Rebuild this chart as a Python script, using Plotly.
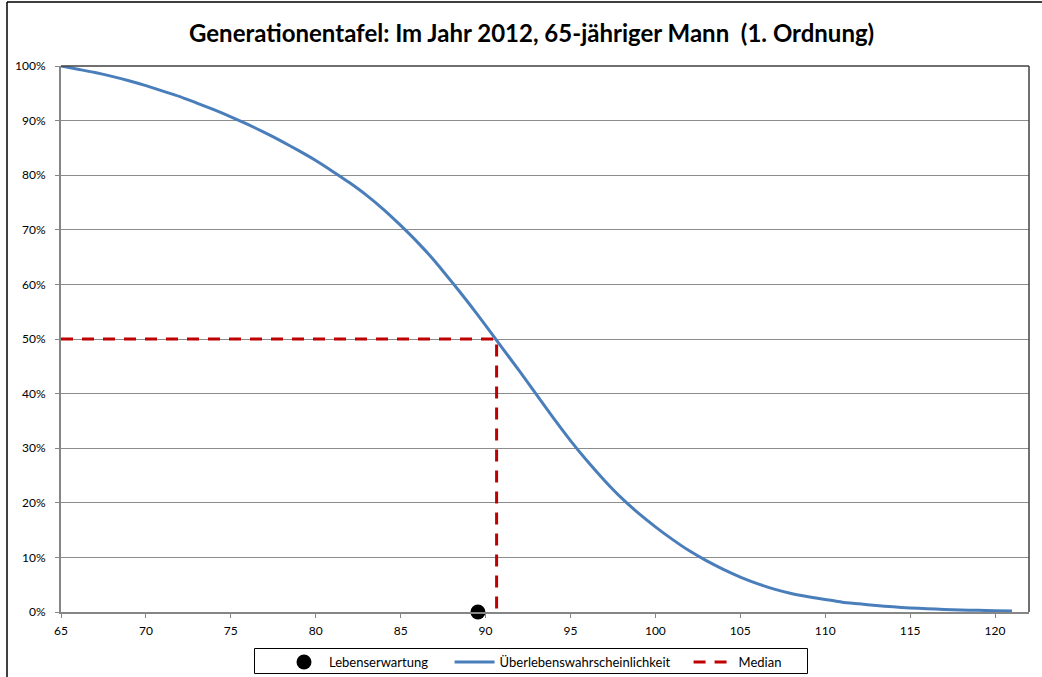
import plotly.graph_objects as go

# ---- data ----
ages = list(range(65, 122))
survival_pct = [100.0, 99.4, 98.8, 98.1, 97.3, 96.4, 95.4, 94.4, 93.2, 92.0,
                90.7, 89.3, 87.8, 86.2, 84.5, 82.7, 80.7, 78.6, 76.3, 73.7,
                70.8, 67.7, 64.3, 60.5, 56.6, 52.5, 48.3, 44.1, 39.8, 35.5,
                31.4, 27.6, 24.1, 20.9, 18.1, 15.6, 13.3, 11.2, 9.4, 7.8,
                6.4, 5.2, 4.2, 3.4, 2.8, 2.3, 1.8, 1.5, 1.2, 0.95,
                0.75, 0.6, 0.47, 0.37, 0.3, 0.24, 0.2]
survival = [v / 100 for v in survival_pct]
median_age = 90.65
median_level = 0.5
life_expectancy = 89.55
x_ticks = list(range(65, 121, 5))
y_ticks = [i / 10 for i in range(0, 11)]

title_text = "Generationentafel: Im Jahr 2012, 65-jähriger Mann\u00a0\u00a0(1. Ordnung)"
FONT = "Lato, 'Open Sans', sans-serif"
NB = "\u00a0"

# pixel geometry
W, H = 1042, 677
L, R, T, B = 61, 1029, 66, 612
pw, ph = R - L, B - T

def px_x(p):
    return (p - L) / pw

def px_y(p):
    return (B - p) / ph

fig = go.Figure()

fig.add_trace(go.Scatter(
    x=[ages[0], median_age, median_age], y=[median_level, median_level, 0],
    mode="lines", name="Median",
    line=dict(color="#C00000", width=3, dash="12px,9px"),
    legendrank=3, cliponaxis=False,
))
fig.add_trace(go.Scatter(
    x=ages, y=survival, mode="lines", name="Überlebenswahrscheinlichkeit" + NB * 4,
    line=dict(color="#4A7EBB", width=3, shape="spline", smoothing=0.6),
    legendrank=2, cliponaxis=False,
))
fig.add_trace(go.Scatter(
    x=[life_expectancy], y=[0], mode="markers", name="Lebenserwartung" + NB * 5,
    marker=dict(color="black", size=15),
    legendrank=1, cliponaxis=False,
))

fig.update_layout(
    width=W, height=H,
    margin=dict(l=L, r=W - R, t=T, b=H - B, autoexpand=False),
    paper_bgcolor="white", plot_bgcolor="white",
    font=dict(family=FONT, size=12, color="black"),
    showlegend=True,
    legend=dict(
        orientation="h", x=px_x(279), xanchor="left",
        y=px_y(647), yanchor="top",
        bgcolor="rgba(0,0,0,0)", borderwidth=0,
        font=dict(family=FONT, size=13, color="black"),
        itemwidth=40,
    ),
    xaxis=dict(
        range=[65, 122], tickvals=x_ticks, showgrid=False, zeroline=False,
        showline=True, linecolor="#868686", linewidth=2,
        ticks="outside", ticklen=4, tickcolor="#868686",
        ticklabelstandoff=3,
        tickfont=dict(family=FONT, size=12, color="black"),
    ),
    yaxis=dict(
        range=[0, 1], tickvals=y_ticks, tickformat=".0%",
        showgrid=True, gridcolor="#8C8C8C", gridwidth=1, zeroline=False,
        showline=True, linecolor="#868686", linewidth=2,
        ticks="outside", ticklen=4, tickcolor="#868686",
        ticklabelstandoff=7,
        tickfont=dict(family=FONT, size=12, color="black"),
    ),
    annotations=[dict(
        text="<b>" + title_text + "</b>", xref="paper", yref="paper",
        x=px_x(531), y=px_y(32), xanchor="center", yanchor="middle",
        showarrow=False, font=dict(family=FONT, size=24, color="black"),
    )],
    shapes=[
        # plot-area top and right border
        dict(type="line", xref="paper", yref="paper", x0=0, x1=1, y0=1, y1=1,
             line=dict(color="#404040", width=1.5), layer="above"),
        dict(type="line", xref="paper", yref="paper", x0=1, x1=1, y0=0, y1=1,
             line=dict(color="#404040", width=1.5), layer="above"),
        # chart outer border (left and top)
        dict(type="line", xref="paper", yref="paper",
             x0=px_x(7), x1=px_x(7), y0=px_y(2), y1=px_y(677),
             line=dict(color="black", width=1.5)),
        dict(type="line", xref="paper", yref="paper",
             x0=px_x(7), x1=px_x(1042), y0=px_y(2), y1=px_y(2),
             line=dict(color="black", width=1.5)),
        # legend box
        dict(type="rect", xref="paper", yref="paper",
             x0=px_x(254.5), x1=px_x(807.5), y0=px_y(648.5), y1=px_y(673.5),
             line=dict(color="black", width=1), fillcolor="rgba(0,0,0,0)"),
    ],
)

fig.write_html("out.html",
               config={"displayModeBar": False},
               post_script="document.body.style.margin='0';document.body.style.overflow='hidden';")
